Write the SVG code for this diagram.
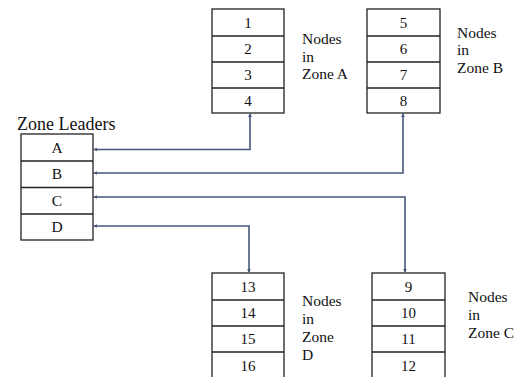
<svg xmlns="http://www.w3.org/2000/svg" width="522" height="377" viewBox="0 0 522 377">
<defs>
<style>
.box{fill:#fff;stroke:#222;stroke-width:1.3}
.sep{stroke:#222;stroke-width:1.3}
text{font-family:'Liberation Serif',serif;font-size:15px;fill:#111}
.c{text-anchor:middle}
.n{font-size:15.5px}
.con{fill:none;stroke:#44597a;stroke-width:1.6}
</style>
<marker id="ah" viewBox="0 0 6 6" refX="5" refY="3" markerWidth="4" markerHeight="4" orient="auto-start-reverse" markerUnits="userSpaceOnUse">
<path d="M0,0 L6,3 L0,6 z" fill="#44597a"/>
</marker>
</defs>
<rect width="522" height="377" fill="#fff"/>

<g id="leaders">
<text x="17" y="129.5" style="font-size:18px">Zone Leaders</text>
<rect class="box" x="21" y="134" width="72" height="106"/>
<line class="sep" x1="21" y1="161" x2="93" y2="161"/>
<line class="sep" x1="21" y1="187.5" x2="93" y2="187.5"/>
<line class="sep" x1="21" y1="214" x2="93" y2="214"/>
<text class="c n" x="57" y="153">A</text>
<text class="c n" x="57" y="179">B</text>
<text class="c n" x="57" y="206">C</text>
<text class="c n" x="57" y="232">D</text>
</g>

<g id="zoneA">
<rect class="box" x="212" y="9" width="72" height="104"/>
<line class="sep" x1="212" y1="36" x2="284" y2="36"/>
<line class="sep" x1="212" y1="62" x2="284" y2="62"/>
<line class="sep" x1="212" y1="88" x2="284" y2="88"/>
<text class="c" x="248" y="28">1</text>
<text class="c" x="248" y="54">2</text>
<text class="c" x="248" y="80">3</text>
<text class="c" x="248" y="106">4</text>
<text class="n" x="302" y="44">Nodes</text>
<text class="n" x="302" y="61.5">in</text>
<text class="n" x="302" y="78.5">Zone A</text>
</g>

<g id="zoneB">
<rect class="box" x="367" y="9" width="73" height="104"/>
<line class="sep" x1="367" y1="36" x2="440" y2="36"/>
<line class="sep" x1="367" y1="62" x2="440" y2="62"/>
<line class="sep" x1="367" y1="88" x2="440" y2="88"/>
<text class="c" x="403.5" y="28">5</text>
<text class="c" x="403.5" y="54">6</text>
<text class="c" x="403.5" y="80">7</text>
<text class="c" x="403.5" y="106">8</text>
<text class="n" x="457" y="37.5">Nodes</text>
<text class="n" x="457" y="55">in</text>
<text class="n" x="457" y="72.5">Zone B</text>
</g>

<g id="zoneD">
<rect class="box" x="212" y="273" width="72" height="106"/>
<line class="sep" x1="212" y1="300" x2="284" y2="300"/>
<line class="sep" x1="212" y1="326" x2="284" y2="326"/>
<line class="sep" x1="212" y1="352" x2="284" y2="352"/>
<text class="c" x="248" y="292">13</text>
<text class="c" x="248" y="318">14</text>
<text class="c" x="248" y="344">15</text>
<text class="c" x="248" y="371">16</text>
<text class="n" x="302" y="305.5">Nodes</text>
<text class="n" x="302" y="323.5">in</text>
<text class="n" x="302" y="341.5">Zone</text>
<text class="n" x="302" y="359.5">D</text>
</g>

<g id="zoneC">
<rect class="box" x="372" y="273" width="73" height="106"/>
<line class="sep" x1="372" y1="300" x2="445" y2="300"/>
<line class="sep" x1="372" y1="326" x2="445" y2="326"/>
<line class="sep" x1="372" y1="352" x2="445" y2="352"/>
<text class="c" x="408.5" y="292">9</text>
<text class="c" x="408.5" y="318">10</text>
<text class="c" x="408.5" y="344">11</text>
<text class="c" x="408.5" y="371">12</text>
<text class="n" x="468" y="301.5">Nodes</text>
<text class="n" x="468" y="319.5">in</text>
<text class="n" x="468" y="337.5">Zone C</text>
</g>

<g id="connectors">
<polyline class="con" points="94,149.5 250,149.5 250,114" marker-start="url(#ah)" marker-end="url(#ah)"/>
<polyline class="con" points="94,173 403,173 403,114" marker-start="url(#ah)" marker-end="url(#ah)"/>
<polyline class="con" points="94,197 405,197 405,272" marker-start="url(#ah)" marker-end="url(#ah)"/>
<polyline class="con" points="94,226 249,226 249,272" marker-start="url(#ah)" marker-end="url(#ah)"/>
</g>
</svg>
